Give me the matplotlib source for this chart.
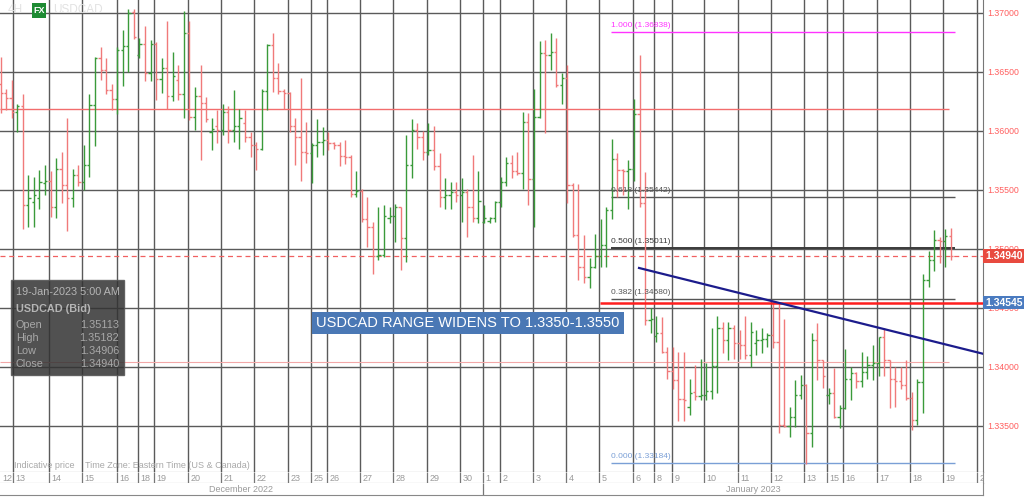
import numpy as np
import matplotlib.pyplot as plt
from matplotlib.patches import Rectangle
from matplotlib.transforms import blended_transform_factory

plt.rcParams['font.family'] = ['Liberation Sans', 'DejaVu Sans']

# 4H USDCAD bars (oldest first)
opens = [1.3640, 1.3632, 1.3628, 1.3616, 1.3621, 1.3537, 1.3540, 1.3543, 1.3556, 1.3558,
         1.3536, 1.3568, 1.3554, 1.3543, 1.3563, 1.3557, 1.3571, 1.3622, 1.3662, 1.3652,
         1.3635, 1.3627, 1.3669, 1.3672, 1.3701, 1.3664, 1.3674, 1.3649, 1.3674, 1.3644,
         1.3653, 1.3630, 1.3643, 1.3631, 1.3683, 1.3612, 1.3630, 1.3624, 1.3599, 1.3604,
         1.3601, 1.3616, 1.3601, 1.3604, 1.3607, 1.3595, 1.3588, 1.3585, 1.3634, 1.3673,
         1.3645, 1.3634, 1.3632, 1.3604, 1.3595, 1.3582, 1.3581, 1.3588, 1.3591, 1.3592,
         1.3590, 1.3588, 1.3579, 1.3578, 1.3547, 1.3549, 1.3525, 1.3519, 1.3494, 1.3495,
         1.3526, 1.3528, 1.3536, 1.3509, 1.3571, 1.3601, 1.3595, 1.3582, 1.3584, 1.3570,
         1.3544, 1.3546, 1.3548, 1.3546, 1.3548, 1.3536, 1.3526, 1.3523, 1.3524, 1.3526,
         1.3540, 1.3557, 1.3573, 1.3566, 1.3564, 1.3608, 1.3559, 1.3612, 1.3666, 1.3664,
         1.3667, 1.3639, 1.3645, 1.3554, 1.3512, 1.3485, 1.3476, 1.3485, 1.3494, 1.3503,
         1.3533, 1.3576, 1.3567, 1.3566, 1.3568, 1.3614, 1.3539, 1.3440, 1.3426, 1.3429,
         1.3413, 1.3397, 1.3389, 1.3373, 1.3366, 1.3379, 1.3375, 1.3376, 1.3380, 1.3401,
         1.3433, 1.3423, 1.3433, 1.3420, 1.3419, 1.3410, 1.3420, 1.3423, 1.3424, 1.3427,
         1.3421, 1.3351, 1.3350, 1.3358, 1.3376, 1.3385, 1.3344, 1.3423, 1.3406, 1.3376,
         1.3378, 1.3358, 1.3365, 1.3390, 1.3395, 1.3388, 1.3396, 1.3402, 1.3403, 1.3425,
         1.3406, 1.3390, 1.3388, 1.3385, 1.3374, 1.3355, 1.3387, 1.3474, 1.3491, 1.3508,
         1.3507, 1.35113]
highs = [1.3663, 1.3636, 1.3643, 1.3623, 1.3631, 1.3563, 1.3561, 1.3567, 1.3571, 1.3566,
         1.3577, 1.3582, 1.3611, 1.3568, 1.3571, 1.3588, 1.3631, 1.3663, 1.3671, 1.3662,
         1.3640, 1.3671, 1.3686, 1.3703, 1.3703, 1.3679, 1.3689, 1.3677, 1.3675, 1.3662,
         1.3693, 1.3667, 1.3656, 1.3702, 1.3693, 1.3637, 1.3656, 1.3629, 1.3611, 1.3618,
         1.3623, 1.3621, 1.3635, 1.3619, 1.3618, 1.3599, 1.3591, 1.3636, 1.3674, 1.3683,
         1.3658, 1.3636, 1.3633, 1.3611, 1.3645, 1.3608, 1.3590, 1.3610, 1.3603, 1.3599,
         1.3591, 1.3591, 1.3592, 1.3580, 1.3566, 1.3551, 1.3544, 1.3523, 1.3536, 1.3537,
         1.3536, 1.3538, 1.3536, 1.3597, 1.3610, 1.3607, 1.3600, 1.3607, 1.3604, 1.3581,
         1.3560, 1.3557, 1.3557, 1.3560, 1.3551, 1.3580, 1.3566, 1.3537, 1.3527, 1.3541,
         1.3561, 1.3578, 1.3580, 1.3582, 1.3616, 1.3615, 1.3636, 1.3676, 1.3677, 1.3683,
         1.3679, 1.3649, 1.3656, 1.3556, 1.3555, 1.3512, 1.3492, 1.3513, 1.3525, 1.3536,
         1.3593, 1.3581, 1.3568, 1.3575, 1.3627, 1.3664, 1.3565, 1.3450, 1.3443, 1.3442,
         1.3417, 1.3417, 1.3413, 1.3413, 1.3390, 1.3402, 1.3407, 1.3403, 1.3433, 1.3443,
         1.3438, 1.3438, 1.3436, 1.3431, 1.3443, 1.3438, 1.3431, 1.3433, 1.3429, 1.3455,
         1.3454, 1.3441, 1.3366, 1.3389, 1.3393, 1.3386, 1.3429, 1.3437, 1.3406, 1.3382,
         1.3399, 1.3368, 1.3415, 1.3400, 1.3396, 1.3413, 1.3409, 1.3419, 1.3425, 1.3433,
         1.3406, 1.3400, 1.3400, 1.3406, 1.3379, 1.3390, 1.3479, 1.3498, 1.3516, 1.3510,
         1.3517, 1.35182]
lows = [1.3615, 1.3618, 1.3611, 1.3599, 1.3517, 1.3519, 1.3519, 1.3534, 1.3546, 1.3527,
        1.3526, 1.3539, 1.3515, 1.3536, 1.3553, 1.3550, 1.3561, 1.3587, 1.3643, 1.3631,
        1.3618, 1.3614, 1.3638, 1.3650, 1.3678, 1.3662, 1.3642, 1.3642, 1.3626, 1.3632,
        1.3619, 1.3625, 1.3626, 1.3611, 1.3609, 1.3601, 1.3575, 1.3608, 1.3584, 1.3590,
        1.3597, 1.3590, 1.3591, 1.3585, 1.3591, 1.3578, 1.3567, 1.3584, 1.3618, 1.3633,
        1.3631, 1.3619, 1.3599, 1.3571, 1.3558, 1.3573, 1.3556, 1.3578, 1.3580, 1.3584,
        1.3585, 1.3570, 1.3572, 1.3544, 1.3544, 1.3523, 1.3502, 1.3479, 1.3491, 1.3493,
        1.3522, 1.3506, 1.3482, 1.3489, 1.3560, 1.3585, 1.3575, 1.3580, 1.3567, 1.3536,
        1.3534, 1.3534, 1.3540, 1.3523, 1.3510, 1.3523, 1.3522, 1.3522, 1.3522, 1.3523,
        1.3536, 1.3553, 1.3560, 1.3563, 1.3551, 1.3537, 1.3519, 1.3611, 1.3598, 1.3652,
        1.3637, 1.3623, 1.3539, 1.3510, 1.3474, 1.3471, 1.3467, 1.3484, 1.3485, 1.3485,
        1.3525, 1.3544, 1.3546, 1.3534, 1.3558, 1.3536, 1.3436, 1.3429, 1.3421, 1.3412,
        1.3390, 1.3381, 1.3354, 1.3354, 1.3359, 1.3372, 1.3372, 1.3372, 1.3373, 1.3378,
        1.3412, 1.3406, 1.3407, 1.3407, 1.3407, 1.3400, 1.3410, 1.3412, 1.3417, 1.3416,
        1.3344, 1.3349, 1.3341, 1.3349, 1.3373, 1.3318, 1.3332, 1.3389, 1.3382, 1.3369,
        1.3357, 1.3348, 1.3364, 1.3372, 1.3382, 1.3383, 1.3390, 1.3389, 1.3392, 1.3392,
        1.3365, 1.3366, 1.3381, 1.3372, 1.3347, 1.3351, 1.3361, 1.3468, 1.3481, 1.3488,
        1.3485, 1.34906]
closes = [1.3632, 1.3628, 1.3616, 1.3621, 1.3537, 1.3543, 1.3546, 1.3557, 1.3558, 1.3536,
          1.3568, 1.3554, 1.3543, 1.3563, 1.3557, 1.3571, 1.3622, 1.3662, 1.3652, 1.3635,
          1.3627, 1.3669, 1.3672, 1.3700, 1.3680, 1.3674, 1.3649, 1.3674, 1.3644, 1.3653,
          1.3630, 1.3647, 1.3631, 1.3683, 1.3612, 1.3630, 1.3624, 1.3610, 1.3602, 1.3601,
          1.3616, 1.3601, 1.3604, 1.3611, 1.3595, 1.3588, 1.3585, 1.3634, 1.3673, 1.3645,
          1.3634, 1.3632, 1.3604, 1.3595, 1.3582, 1.3581, 1.3588, 1.3591, 1.3592, 1.3590,
          1.3588, 1.3579, 1.3578, 1.3547, 1.3549, 1.3525, 1.3519, 1.3494, 1.3495, 1.3528,
          1.3528, 1.3536, 1.3509, 1.3571, 1.3601, 1.3595, 1.3582, 1.3584, 1.3570, 1.3544,
          1.3546, 1.3548, 1.3546, 1.3548, 1.3536, 1.3526, 1.3541, 1.3526, 1.3526, 1.3540,
          1.3557, 1.3573, 1.3566, 1.3564, 1.3608, 1.3559, 1.3612, 1.3666, 1.3664, 1.3667,
          1.3639, 1.3645, 1.3554, 1.3512, 1.3485, 1.3476, 1.3485, 1.3494, 1.3503, 1.3533,
          1.3576, 1.3567, 1.3566, 1.3568, 1.3614, 1.3539, 1.3440, 1.3441, 1.3429, 1.3413,
          1.3397, 1.3389, 1.3373, 1.3372, 1.3378, 1.3375, 1.3376, 1.3380, 1.3401, 1.3433,
          1.3423, 1.3433, 1.3420, 1.3419, 1.3410, 1.3430, 1.3423, 1.3424, 1.3427, 1.3421,
          1.3351, 1.3350, 1.3358, 1.3376, 1.3385, 1.3344, 1.3423, 1.3406, 1.3392, 1.3378,
          1.3358, 1.3365, 1.3390, 1.3395, 1.3388, 1.3396, 1.3402, 1.3403, 1.3425, 1.3406,
          1.3390, 1.3388, 1.3385, 1.3374, 1.3355, 1.3387, 1.3474, 1.3491, 1.3508, 1.3507,
          1.3511, 1.34940]

# day separators, in bar units
day_labels = ['13', '14', '15', '16', '18', '19', '20', '21', '22', '23', '25', '26',
              '27', '28', '29', '30', '1', '2', '3', '4', '5', '6', '8', '9', '10',
              '11', '12', '13', '15', '16', '17', '18', '19', '20']
day_starts = [2.25, 8.73, 14.67, 20.97, 24.75, 27.63, 33.75, 39.69, 45.63, 51.75,
              55.89, 58.77, 64.71, 70.65, 76.77, 82.71, 86.84, 89.9, 95.84, 101.78,
              107.72, 113.84, 117.62, 120.86, 126.62, 132.74, 138.68, 144.62, 148.76,
              151.64, 157.76, 163.7, 169.64, 175.76]
price_ticks = [1.335, 1.340, 1.345, 1.350, 1.355, 1.360, 1.365, 1.370]

fib_ratios = ['1.000', '0.618', '0.500', '0.382', '0.000']
fib_levels = [1.36838, 1.35442, 1.35011, 1.34580, 1.33184]
resist_level = 1.3619
support_level = 1.3404
last_price = 1.34940
break_level = 1.34545
trend_x = [114.9, 176.8]
trend_y = [1.34839, 1.34112]

W, H = 1024, 497
fig = plt.figure(figsize=(W / 100, H / 100), dpi=100)
ax = fig.add_axes([0, 1 - 472 / H, 983 / W, 472 / H])
ax.set_xlim(-0.1, 176.8)
ax.set_ylim(1.33110, 1.37110)

ax.set_xticks(day_starts)
ax.set_xticklabels([])
ax.set_yticks(price_ticks)
ax.set_yticklabels([f'{p:.5f}' for p in price_ticks])
ax.yaxis.tick_right()
ax.tick_params(axis='x', length=0)
ax.tick_params(axis='y', length=0, labelcolor='#ff5f5f', labelsize=6.3, pad=3)
ax.grid(True, color='#5a5a5a', lw=1.0, zorder=0)
ax.set_axisbelow(True)
ax.spines['left'].set_visible(False)
ax.spines['top'].set_visible(False)
ax.spines['right'].set_color('#777777')
ax.spines['bottom'].set_color('#555555')

# OHLC bars
x = np.arange(len(opens))
o, h, l, c = map(np.array, (opens, highs, lows, closes))
cols = np.where(c >= o, '#3a9a3a', '#f07a7a')
ax.vlines(x, l, h, colors=cols, lw=1.0, zorder=3)
ax.hlines(o, x - 0.4, x, colors=cols, lw=1.0, zorder=3)
ax.hlines(c, x, x + 0.4, colors=cols, lw=1.0, zorder=3)

# levels
ax.hlines(resist_level, -0.1, 170.7, color='#f26d6d', lw=1.0, zorder=2)
ax.hlines(support_level, -0.1, 170.7, color='#f3a8a8', lw=0.8, zorder=2)
ax.axhline(last_price, color='#f06060', lw=0.9, ls=(0, (4, 3)), zorder=2)
ax.hlines(break_level, 107.9, 176.8, color='#ff1f1f', lw=1.8, zorder=4)
ax.plot(trend_x, trend_y, color='#1c1c8c', lw=1.6, zorder=4)

fib_colors = ['#ff33ff', '#555555', '#3a3a3a', '#555555', '#7a9fd6']
fib_widths = [1.0, 1.0, 1.4, 1.0, 1.0]
for r, lev, col, lw in zip(fib_ratios, fib_levels, fib_colors, fib_widths):
    ax.hlines(lev, 109.9, 171.8, color=col, lw=lw, zorder=2)
    ax.annotate(f'{r} ({lev:.5f})', (109.9, lev), xytext=(0, 2),
                textcoords='offset points', fontsize=6, color=col, va='bottom', zorder=5)

# price tags on the right
tr = blended_transform_factory(fig.transFigure, ax.transData)
for price, col in [(last_price, '#e84a3f'), (break_level, '#4a7bc0')]:
    ax.add_patch(Rectangle((983 / W, price - 0.00056), 41 / W, 0.00112, transform=tr,
                           fc=col, ec='none', clip_on=False, zorder=6))
    ax.text(985 / W, price, f'{price:.5f}', transform=tr, color='white', fontsize=7.5,
            fontweight='bold', va='center', ha='left', clip_on=False, zorder=7)

# headline box
fig.text(316 / W, 1 - 323 / H, 'USDCAD RANGE WIDENS TO 1.3350-1.3550', color='white',
         fontsize=10.5, va='center', ha='left',
         bbox=dict(boxstyle='square,pad=0.3', fc='#4a78b5', ec='none'))

# tooltip box
ax.add_patch(Rectangle((11 / W, 1 - 375 / H), 113 / W, 95 / H, transform=fig.transFigure,
                       fc='#333333', ec='#555555', alpha=0.85, clip_on=False, zorder=8))
fig.text(16 / W, 1 - 292 / H, '19-Jan-2023 5:00 AM', color='#b5b5b5', fontsize=7.8,
         va='center', zorder=9)
fig.text(16 / W, 1 - 309 / H, 'USDCAD (Bid)', color='#b5b5b5', fontsize=7.8,
         fontweight='bold', va='center', zorder=9)
rows = [('Open', 1.35113), ('High', 1.35182), ('Low', 1.34906), ('Close', 1.34940)]
for k, (name, val) in enumerate(rows):
    yy = 1 - (325 + 13 * k) / H
    fig.text(16 / W, yy, name, color='#a8a8a8', fontsize=7.8, va='center', zorder=9)
    fig.text(119 / W, yy, f'{val:.5f}', color='#a8a8a8', fontsize=7.8, va='center',
             ha='right', zorder=9)

# header
fig.text(8 / W, 1 - 10 / H, '4H', color='#e2e2e2', fontsize=8.5, va='center')
ax.add_patch(Rectangle((32 / W, 1 - 18 / H), 14 / W, 15 / H, transform=fig.transFigure,
                       fc='#1e8b33', ec='none', clip_on=False, zorder=6))
fig.text(39 / W, 1 - 10.5 / H, 'FX', color='white', fontsize=6.5, fontweight='bold',
         ha='center', va='center', zorder=7)
fig.text(53 / W, 1 - 10 / H, 'USDCAD', color='#e2e2e2', fontsize=8.5, va='center')

fig.text(14 / W, 1 - 466 / H, 'Indicative price', color='#a8a8a8', fontsize=6.5, va='center')
fig.text(85 / W, 1 - 466 / H, 'Time Zone: Eastern Time (US & Canada)', color='#a8a8a8',
         fontsize=6.5, va='center')

# date row
axd = fig.add_axes([0, 1 - 483 / H, 983 / W, 11 / H])
axd.set_xlim(ax.get_xlim())
axd.set_ylim(0, 1)
axd.set_xticks([])
axd.set_yticks([])
for s in ['left', 'top']:
    axd.spines[s].set_visible(False)
for s in ['bottom', 'right']:
    axd.spines[s].set_color('#888888')
axd.vlines(day_starts, 0, 1, color='#777777', lw=0.9)
axd.text(0.3, 0.45, '12', fontsize=6.5, color='#9a9a9a', va='center', ha='left')
for d, lab in zip(day_starts, day_labels):
    axd.text(d + 0.4, 0.45, lab, fontsize=6.5, color='#9a9a9a', va='center', ha='left',
             clip_on=True)

# month row
axm = fig.add_axes([0, 1 - 495 / H, 983 / W, 12 / H])
axm.set_xlim(ax.get_xlim())
axm.set_ylim(0, 1)
axm.set_xticks([])
axm.set_yticks([])
for s in ['left', 'top']:
    axm.spines[s].set_visible(False)
for s in ['bottom', 'right']:
    axm.spines[s].set_color('#888888')
axm.vlines([86.84], 0, 1, color='#777777', lw=0.9)
axm.text(43.2, 0.5, 'December 2022', fontsize=6.5, color='#9a9a9a', va='center', ha='center')
axm.text(135.5, 0.5, 'January 2023', fontsize=6.5, color='#9a9a9a', va='center', ha='center')

fig.savefig('out.png', dpi=100)
